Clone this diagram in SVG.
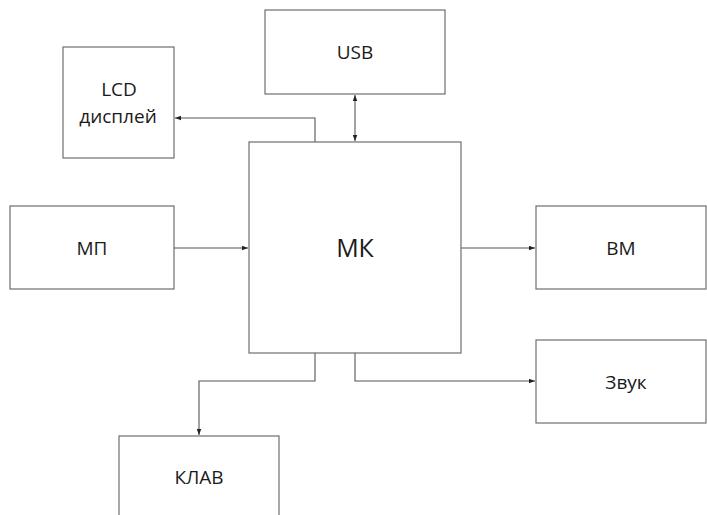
<svg xmlns="http://www.w3.org/2000/svg" width="707" height="515" viewBox="0 0 707 515">
<defs>
<style>
.box{fill:#fff;stroke:#6e6e6e;stroke-width:1.2}
.t{font-family:"Open Sans","Liberation Sans",sans-serif;font-size:19px;fill:#1a1a1a;text-anchor:middle}
.big{font-size:25px}
.c{fill:none;stroke:#555;stroke-width:1.1}
</style>
<marker id="a" viewBox="0 0 8 6" refX="8" refY="3" markerWidth="6" markerHeight="5" orient="auto-start-reverse" markerUnits="userSpaceOnUse">
<path d="M0,0 L8,3 L0,6 z" fill="#222"/>
</marker>
</defs>
<rect width="707" height="515" fill="#fff"/>
<g id="connectors">
<path class="c" d="M355,95 V141" marker-start="url(#a)" marker-end="url(#a)"/>
<path class="c" d="M315,142 V118 H175" marker-end="url(#a)"/>
<path class="c" d="M174,248 H248" marker-end="url(#a)"/>
<path class="c" d="M461,248 H535" marker-end="url(#a)"/>
<path class="c" d="M315,353 V381 H199 V435" marker-end="url(#a)"/>
<path class="c" d="M355,353 V381 H535" marker-end="url(#a)"/>
</g>
<g id="usb"><rect class="box" x="265" y="10" width="180" height="84"/><text class="t" x="355" y="59">USB</text></g>
<g id="lcd"><rect class="box" x="63" y="47" width="111" height="111"/><text class="t" x="119" y="96">LCD</text><text class="t" x="118" y="123">дисплей</text></g>
<g id="mk"><rect class="box" x="249" y="142" width="212" height="211"/><text class="t big" x="355" y="257">МК</text></g>
<g id="mp"><rect class="box" x="10" y="206" width="164" height="83"/><text class="t" x="92" y="255">МП</text></g>
<g id="vm"><rect class="box" x="536" y="206" width="170" height="83"/><text class="t" x="621" y="255">ВМ</text></g>
<g id="zvuk"><rect class="box" x="536" y="340" width="170" height="83"/><text class="t" x="626" y="389">Звук</text></g>
<g id="klav"><rect class="box" x="119" y="436" width="160" height="90"/><text class="t" x="199" y="484">КЛАВ</text></g>
</svg>
